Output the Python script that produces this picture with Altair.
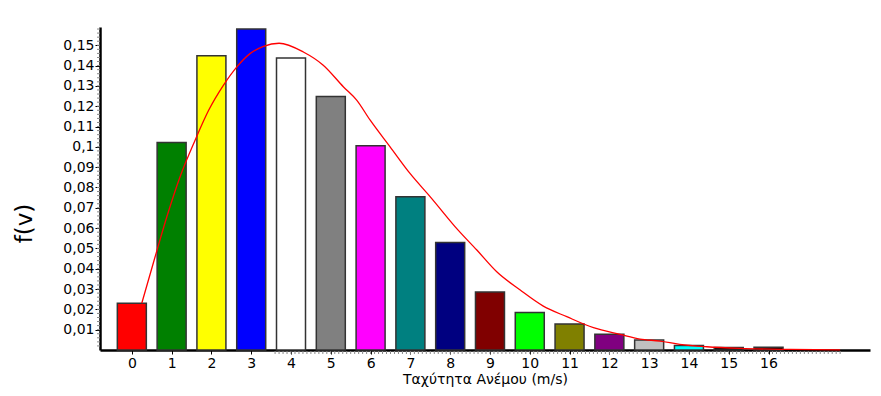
import altair as alt
import pandas as pd
import numpy as np

# ---- data ----
speeds = list(range(17))
freqs = [0.0230, 0.1022, 0.1449, 0.1580, 0.1438, 0.1248, 0.1005, 0.0754,
         0.0529, 0.0285, 0.0185, 0.0128, 0.0077, 0.0049, 0.0022, 0.0012, 0.0013]
bar_colors = ["#FF0000", "#008000", "#FFFF00", "#0000FF", "#FFFFFF", "#808080",
              "#FF00FF", "#008080", "#000080", "#800000", "#00FF00", "#808000",
              "#800080", "#C0C0C0", "#00FFFF", "#000000", "#000000"]

curve_v = [0.25, 0.585, 0.88, 1.21, 1.59, 1.93, 2.30, 2.64, 2.97, 3.31, 3.70,
           4.31, 4.81, 5.32, 5.65, 5.99, 6.49, 6.99, 7.5, 8.2, 8.67, 9.17, 9.76,
           10.34, 10.93, 11.6, 12.27, 12.77, 13.27, 13.77, 14.45, 15.28, 16.54, 17.8]
curve_f = [0.0230, 0.0459, 0.0656, 0.0852, 0.1033, 0.1180, 0.1303, 0.1394, 0.1459,
           0.1495, 0.1510, 0.1467, 0.1402, 0.1295, 0.1230, 0.1131, 0.1000, 0.0869,
           0.0754, 0.0590, 0.0492, 0.0385, 0.0295, 0.0216, 0.0164, 0.0110, 0.0077,
           0.0054, 0.0044, 0.0028, 0.0016, 0.0008, 0.0003, 0.0001]

y_tick_values = [0.01, 0.02, 0.03, 0.04, 0.05, 0.06, 0.07, 0.08, 0.09, 0.10,
                 0.11, 0.12, 0.13, 0.14, 0.15]
x_tick_values = speeds

x_title = "Ταχύτητα Ανέμου (m/s)"
y_title = "f(v)"

# ---- layout ----
W, H = 770, 323
XDOM = [-0.8, 18.55]
YDOM = [0, 0.159]
FONT = "DejaVu Sans"

bars_df = pd.DataFrame({"v": speeds, "f": freqs, "c": [str(s) for s in speeds]})
curve_df = pd.DataFrame({"v": curve_v, "f": curve_f})
xminor_df = pd.DataFrame({"v": np.round(np.arange(3.6, 17.85, 0.1), 2)})
yminor_df = pd.DataFrame({"f": np.round(np.arange(0.002, 0.1585, 0.002), 4)})

xscale = alt.Scale(domain=XDOM, nice=False, zero=False, padding=0)
yscale = alt.Scale(domain=YDOM, nice=False, padding=0)

x_axis = alt.Axis(values=x_tick_values, format="d", title=x_title, grid=False,
                  tickSize=4, labelPadding=2, titlePadding=2, labelOverlap=False)
y_axis = alt.Axis(values=y_tick_values, grid=False, title=y_title,
                  labelExpr="replace(format(datum.value, '.2~f'), '.', ',')",
                  tickSize=5, labelPadding=1, labelOverlap=False,
                  titleX=-76, titleY=196, titleAngle=270,
                  titleFontSize=23, titleAlign="center", titleBaseline="middle")

X = alt.X("v:Q", scale=xscale, axis=x_axis)
Y = alt.Y("f:Q", scale=yscale, axis=y_axis)

bars = alt.Chart(bars_df).mark_bar(size=29, stroke="#333333", strokeWidth=1.5).encode(
    x=X, y=Y,
    color=alt.Color("c:N", scale=alt.Scale(domain=[str(s) for s in speeds], range=bar_colors),
                    legend=None),
)

curve = alt.Chart(curve_df).mark_line(color="#FF0000", strokeWidth=1.3,
                                      interpolate="monotone").encode(x=X, y=Y)

xminor = alt.Chart(xminor_df).mark_rule(color="#888888", strokeWidth=1).encode(
    x=X,
    y=alt.value(H + 1),
    y2=alt.value(H + 4),
)

yminor = alt.Chart(yminor_df).mark_rule(color="#888888", strokeWidth=1).encode(
    y=Y,
    x=alt.value(-3),
    x2=alt.value(0),
)

chart = alt.layer(bars, curve, xminor, yminor).properties(
    width=W, height=H,
    autosize=alt.AutoSizeParams(type="none"),
    padding={"left": 100, "top": 27, "right": 11, "bottom": 46},
).configure_view(stroke=None).configure_axis(
    domainColor="black", domainWidth=2.5, tickColor="black", tickWidth=1,
    labelFont=FONT, labelFontSize=14, labelColor="black",
    titleFont=FONT, titleFontSize=14, titleFontWeight="normal", titleColor="black",
)

chart.save("out.html", embed_options={"renderer": "svg", "actions": False})
